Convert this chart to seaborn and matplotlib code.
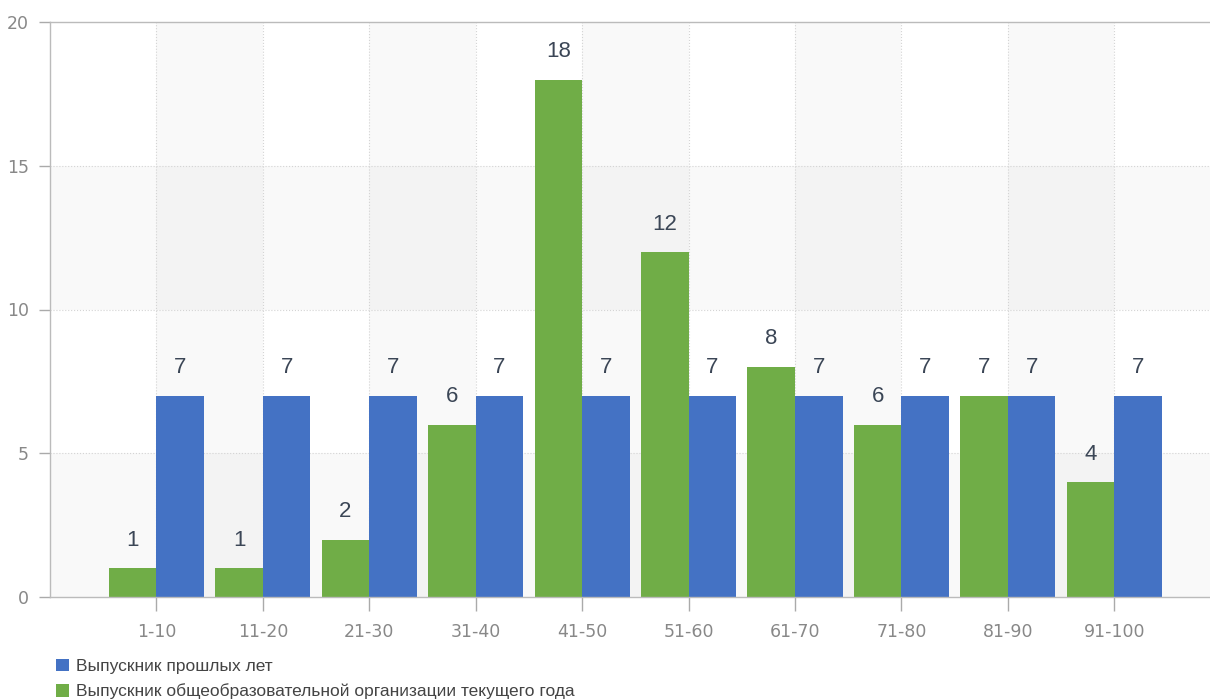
import numpy as np
import pandas as pd
import matplotlib
matplotlib.use("Agg")
import matplotlib.pyplot as plt
import seaborn as sns

categories = ['1-10', '11-20', '21-30', '31-40', '41-50', '51-60', '61-70', '71-80', '81-90', '91-100']
current_year = [1, 1, 2, 6, 18, 12, 8, 6, 7, 4]
past_years = [7, 7, 7, 7, 7, 7, 7, 7, 7, 7]
series_current = 'Выпускник общеобразовательной организации текущего года'
series_past = 'Выпускник прошлых лет'
y_ticks = [0, 5, 10, 15, 20]

green = '#70AD47'
blue = '#4472C4'

df = pd.DataFrame({
    'range': categories * 2,
    'count': current_year + past_years,
    'series': [series_current] * len(categories) + [series_past] * len(categories),
})

sns.set_style("white")
plt.rcParams['font.family'] = ['DejaVu Sans']

fig = plt.figure(figsize=(12.1, 7), dpi=100)
ax = fig.add_axes([50 / 1210, 1 - 597 / 700, 1 - 50 / 1210, (597 - 22) / 700])

# alternating background bands
for y0 in [0, 10]:
    ax.axhspan(y0, y0 + 5, color='black', alpha=0.023, lw=0, zorder=0)
for x0 in [0, 2, 4, 6, 8]:
    ax.axvspan(x0, x0 + 1, color='black', alpha=0.023, lw=0, zorder=0)

sns.barplot(data=df, x='range', y='count', hue='series',
            hue_order=[series_current, series_past],
            palette=[green, blue], width=0.894, saturation=1,
            edgecolor='none', ax=ax, zorder=2)

for cont in ax.containers:
    for bar in cont:
        h = bar.get_height()
        ax.annotate(f'{int(h)}', (bar.get_x() + bar.get_width() / 2, h),
                    xytext=(0, 28), textcoords='offset pixels',
                    ha='center', va='center', fontsize=16, color='#3b4656',
                    family='Liberation Sans')

ax.set_ylim(0, 20)
ax.set_xlim(-1, 9.9)
ax.set_yticks(y_ticks)
ax.set_xticks(range(len(categories)))
ax.set_xticklabels(categories)
ax.tick_params(axis='both', labelsize=12.5, colors='#aaaaaa', labelcolor='#888888',
               length=8, width=1, direction='out', pad=7)
ax.tick_params(axis='x', length=10, pad=9)
ax.tick_params(left=True, bottom=True)
ax.set_xlabel('')
ax.set_ylabel('')

for y in y_ticks[1:-1]:
    ax.axhline(y, color='#d4d4d4', lw=0.8, ls=':', zorder=1)
for x in range(len(categories)):
    ax.axvline(x, color='#d4d4d4', lw=0.8, ls=':', zorder=1)

for side in ['left', 'bottom', 'top']:
    ax.spines[side].set_color('#bbbbbb')
    ax.spines[side].set_linewidth(1)
ax.spines['right'].set_visible(False)

handles, labels = ax.get_legend_handles_labels()
ax.legend([handles[1], handles[0]], [labels[1], labels[0]],
          loc='upper left', bbox_to_anchor=(-0.008, -0.08),
          bbox_transform=ax.transAxes, frameon=False, handlelength=0.75,
          handleheight=0.75, handletextpad=0.4, labelspacing=0.55,
          prop={'family': 'Liberation Sans', 'size': 12.5}, labelcolor='#444444')

fig.savefig('out.png', dpi=100)
